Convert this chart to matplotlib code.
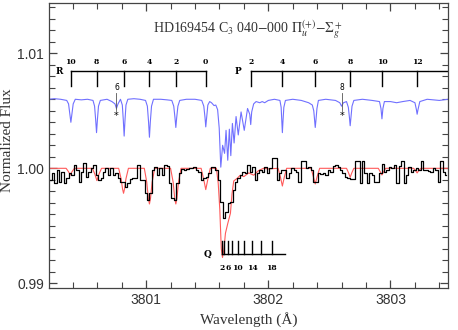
import numpy as np
import matplotlib.pyplot as plt

plt.rcParams['mathtext.fontset'] = 'stix'

# --- observed spectrum (histogram, 0.02 A bins) ---
obs_start = 3800.217
obs_step = 0.02
obs_flux = [
    0.99899, 0.99957, 0.99870, 0.99986, 0.99884, 0.99971, 0.99870, 0.99913, 0.99957, 0.99942,
    1.00029, 0.99986, 0.99884, 0.99971, 1.00043, 0.99928, 0.99971, 1.00000, 1.00029, 0.99942,
    0.99899, 0.99913, 0.99971, 1.00000, 0.99942, 1.00000, 0.99942, 0.99957, 0.99913, 0.99884,
    0.99884, 0.99841, 0.99870, 0.99904, 0.99913, 0.99913, 1.00030, 0.99899, 0.99899, 0.99783,
    0.99725, 0.99783, 0.99986, 1.00014, 0.99942, 1.00000, 0.99942, 1.00029, 1.00020, 0.99870,
    0.99739, 0.99725, 0.99870, 0.99957, 0.99991, 0.99986, 0.99991, 1.00000, 1.00000, 1.00014,
    0.99986, 0.99971, 0.99899, 0.99913, 0.99928, 0.99957, 1.00010, 1.00010, 0.99986, 0.99899,
    0.99710, 0.99565, 0.99623, 0.99696, 0.99710, 0.99812, 0.99884, 0.99913, 0.99942, 0.99971,
    0.99957, 1.00029, 0.99971, 1.00014, 0.99899, 0.99957, 0.99986, 0.99971, 1.00014, 0.99957,
    1.00000, 1.00087, 1.00090, 0.99899, 0.99957, 0.99986, 0.99986, 0.99913, 0.99957, 1.00000,
    0.99986, 0.99971, 0.99884, 1.00060, 1.00060, 1.00000, 1.00014, 0.99986, 0.99880, 0.99884,
    0.99957, 0.99950, 0.99957, 0.99942, 0.99986, 0.99971, 1.00020, 1.00029, 1.00014, 0.99986,
    0.99957, 0.99928, 0.99913, 0.99905, 0.99905, 1.00060, 1.00060, 0.99870, 1.00060, 0.99957,
    0.99870, 0.99957, 0.99942, 0.99884, 0.99884, 0.99957, 1.00040, 0.99971, 0.99986, 1.00014,
    1.00000, 1.00029, 0.99870, 1.00020, 1.00060, 0.99870, 0.99942, 1.00014, 0.99971, 0.99986,
    1.00000, 0.99986, 1.00060, 0.99986, 0.99986, 0.99980, 0.99971, 1.00000, 0.99986, 0.99884,
    1.00060, 0.99971, 0.99942,
]
obs_wl = obs_start + obs_step * np.arange(len(obs_flux))

# --- model spectrum (red) ---
red_wl = [3800.20, 3800.345, 3800.365, 3800.379, 3800.393, 3800.413,
          3800.56, 3800.58, 3800.597, 3800.614, 3800.635,
          3800.775, 3800.795, 3800.807, 3800.815, 3800.823, 3800.835, 3800.855,
          3800.985, 3801.005, 3801.018, 3801.027, 3801.036, 3801.049, 3801.07,
          3801.20, 3801.221, 3801.234, 3801.243, 3801.252, 3801.265, 3801.286,
          3801.45, 3801.47, 3801.488, 3801.506, 3801.525, 3801.575,
          3801.59, 3801.603, 3801.615, 3801.625, 3801.636, 3801.649, 3801.668,
          3801.69, 3801.703, 3801.717, 3801.745, 3801.77, 3801.80, 3801.84,
          3801.88, 3801.92, 3801.96, 3802.00, 3802.08, 3802.10, 3802.115,
          3802.13, 3802.15, 3802.35, 3802.368, 3802.384, 3802.40, 3802.42,
          3802.64, 3802.657, 3802.67, 3802.683, 3802.70, 3802.90, 3802.916,
          3802.93, 3802.944, 3802.96, 3803.19, 3803.205, 3803.218, 3803.231,
          3803.25, 3803.47]
red_fl = [1.0, 1.0, 0.9997, 0.99942, 0.9997, 1.0,
          1.0, 0.9995, 0.99893, 0.9995, 1.0,
          1.0, 0.9991, 0.9982, 0.99783, 0.9982, 0.9991, 1.0,
          1.0, 0.9988, 0.9974, 0.9969, 0.9974, 0.9988, 1.0,
          1.0, 0.9988, 0.9974, 0.9969, 0.9974, 0.9988, 1.0,
          1.0, 0.9991, 0.99815, 0.9991, 1.0, 1.0,
          0.9987, 0.9964, 0.9930, 0.99225, 0.9929, 0.99435, 0.9952,
          0.9961, 0.9978, 0.9989, 0.99913, 0.9994, 0.99928, 0.9996,
          0.9994, 0.9998, 1.0, 0.99995, 1.0, 0.9992, 0.99846,
          0.9992, 1.0, 1.0, 0.9993, 0.99864, 0.9993, 1.0,
          1.0, 0.9996, 0.99922, 0.9996, 1.0, 1.0, 0.9997,
          0.99942, 0.9997, 1.0, 1.0, 0.9998, 0.99960, 0.9998,
          1.0, 1.0]

# --- model spectrum, offset (blue) ---
blue_wl = [3800.20, 3800.25, 3800.30, 3800.35, 3800.365, 3800.376, 3800.384, 3800.392, 3800.403, 3800.42,
           3800.47, 3800.52, 3800.565, 3800.578, 3800.587, 3800.594, 3800.601, 3800.61, 3800.625,
           3800.68, 3800.72, 3800.745, 3800.757, 3800.77, 3800.79, 3800.805, 3800.813, 3800.820,
           3800.827, 3800.835, 3800.85, 3800.90, 3800.95, 3800.995, 3801.01, 3801.02, 3801.027,
           3801.034, 3801.044, 3801.06, 3801.12, 3801.17, 3801.21, 3801.226, 3801.236, 3801.243,
           3801.25, 3801.26, 3801.275, 3801.33, 3801.40, 3801.455, 3801.472, 3801.482, 3801.488,
           3801.495, 3801.505, 3801.52, 3801.535, 3801.556, 3801.57, 3801.585, 3801.598, 3801.611,
           3801.626, 3801.642, 3801.654, 3801.668, 3801.681, 3801.693, 3801.706, 3801.720, 3801.736,
           3801.754, 3801.777, 3801.803, 3801.830, 3801.848, 3801.856, 3801.864, 3801.88, 3801.90,
           3801.93, 3801.95, 3801.97, 3802.00, 3802.05, 3802.095, 3802.105, 3802.11, 3802.115,
           3802.12, 3802.127, 3802.14, 3802.20, 3802.27, 3802.33, 3802.36, 3802.372, 3802.379,
           3802.384, 3802.39, 3802.398, 3802.41, 3802.47, 3802.55, 3802.585, 3802.600, 3802.615,
           3802.64, 3802.655, 3802.664, 3802.670, 3802.676, 3802.685, 3802.70, 3802.77, 3802.85,
           3802.91, 3802.922, 3802.930, 3802.938, 3802.95, 3803.00, 3803.05, 3803.10, 3803.16,
           3803.20, 3803.212, 3803.218, 3803.225, 3803.24, 3803.30, 3803.40, 3803.47]
blue_fl = [1.0060, 1.00605, 1.0060, 1.0059, 1.0056, 1.0047, 1.0040, 1.0047, 1.0056, 1.0060,
           1.00595, 1.0060, 1.0059, 1.0054, 1.0042, 1.0031, 1.0042, 1.0054, 1.0059,
           1.0060, 1.0058, 1.0056, 1.0052, 1.0056, 1.0060, 1.0055, 1.0042, 1.0028,
           1.0042, 1.0055, 1.0060, 1.00605, 1.0060, 1.0059, 1.0054, 1.0040, 1.0027,
           1.0040, 1.0054, 1.0060, 1.0060, 1.00595, 1.0059, 1.0054, 1.0044, 1.00355,
           1.0044, 1.0054, 1.0059, 1.0060, 1.0060, 1.0059, 1.0054, 1.0044, 1.0036,
           1.0044, 1.0055, 1.0058, 1.0057, 1.00545, 1.0055, 1.0051, 1.0035, 1.0001,
           1.0020, 1.0013, 1.0033, 1.0007, 1.0034, 1.0011, 1.0039, 1.0022, 1.0045,
           1.0029, 1.0049, 1.0033, 1.0052, 1.0047, 1.0038, 1.0049, 1.0056, 1.0058,
           1.0057, 1.0058, 1.0057, 1.0059, 1.0060, 1.0059, 1.0053, 1.0041, 1.0031,
           1.0041, 1.0053, 1.0059, 1.0060, 1.0059, 1.0057, 1.0055, 1.0050, 1.0042,
           1.00355, 1.0042, 1.0052, 1.0059, 1.0060, 1.0059, 1.0057, 1.0054, 1.0057,
           1.0058, 1.0053, 1.0044, 1.0037, 1.0044, 1.0054, 1.0059, 1.0060, 1.0059,
           1.0058, 1.0052, 1.0043, 1.0052, 1.0058, 1.0058, 1.0057, 1.0058, 1.0059,
           1.0057, 1.0051, 1.0047, 1.0051, 1.0058, 1.0060, 1.0059, 1.0060]

# --- line identifications ---
R_J = [10, 8, 6, 4, 2, 0]
R_wl = [3800.384, 3800.594, 3800.820, 3801.027, 3801.243, 3801.488]
P_J = [2, 4, 6, 8, 10, 12]
P_wl = [3801.856, 3802.115, 3802.384, 3802.670, 3802.930, 3803.218]
Q_J = [2, 4, 6, 8, 10, 12, 14, 16, 18]
Q_wl = [3801.624, 3801.640, 3801.668, 3801.703, 3801.750, 3801.804, 3801.869, 3801.943, 3802.028]
Q_shown = [2, 6, 10, 14, 18]
star_J = [6, 8]
star_wl = [3800.757, 3802.600]

fig = plt.figure(figsize=(4.58, 3.30), dpi=100)
ax = fig.add_axes([0.107, 0.127, 0.871, 0.864])

ax.plot(blue_wl, blue_fl, color='#7070ff', lw=0.8)
ax.plot(red_wl, red_fl, color='#ff5a5a', lw=0.8)
ax.step(obs_wl, obs_flux, where='mid', color='black', lw=0.9)

ax.set_xlim(3800.205, 3803.47)
ax.set_ylim(0.98959, 1.01437)

# R and P branch combs
y_bar, y_tick, y_num = 1.00849, 1.00718, 1.00924
bkw = dict(fontsize=5.5, fontweight='bold', family='DejaVu Serif', ha='center', va='center')
ax.plot([R_wl[0], R_wl[-1]], [y_bar, y_bar], color='black', lw=1)
ax.plot([P_wl[0], 3803.6], [y_bar, y_bar], color='black', lw=1)
for wl, j in zip(R_wl + P_wl, R_J + P_J):
    ax.plot([wl, wl], [y_bar, y_tick], color='black', lw=1)
    ax.text(wl, y_num, str(j), **bkw)
ax.text(3800.289, 1.0084, 'R', fontsize=6.5, fontweight='bold', family='DejaVu Serif',
        ha='center', va='center')
ax.text(3801.752, 1.0084, 'P', fontsize=6.5, fontweight='bold', family='DejaVu Serif',
        ha='center', va='center')

# asterisks
for wl, j in zip(star_wl, star_J):
    ax.text(wl, 1.00704, str(j), fontsize=5.5, family='DejaVu Sans', ha='center', va='center')
    ax.plot([wl, wl], [1.00655, 1.00507], color='#555555', lw=0.6)
    ax.text(wl, 1.00452, '*', fontsize=7, ha='center', va='center')

# Q branch comb
q_bar, q_top = 0.99252, 0.99370
ax.plot([Q_wl[0], 3802.137], [q_bar, q_bar], color='black', lw=1)
for wl, j in zip(Q_wl, Q_J):
    ax.plot([wl, wl], [q_bar, q_top], color='black', lw=1)
    if j in Q_shown:
        ax.text(wl, 0.99136, str(j), **bkw)
ax.text(3801.50, q_bar, 'Q', fontsize=6.5, fontweight='bold', family='DejaVu Serif',
        ha='center', va='center')

ax.text(0.499, 0.905, r'HD169454 C$_3$ 040$-$000 $\Pi_u^{(+)}$$-$$\Sigma_g^+$',
        transform=ax.transAxes, ha='center', va='center', fontsize=10,
        family='Liberation Serif', color='#333333')

ax.set_xticks([3801, 3802, 3803])
ax.set_xticks(np.arange(3800.4, 3803.5, 0.2), minor=True)
ax.set_yticks([0.99, 1.00, 1.01])
ax.set_yticklabels(['0.99', '1.00', '1.01'])
ax.set_yticks(np.arange(0.990, 1.0145, 0.001), minor=True)
ax.tick_params(which='both', direction='in', top=True, right=True, color='#444444',
               labelsize=10, labelcolor='#333333')
ax.tick_params(which='major', length=6, width=0.9)
ax.tick_params(which='minor', length=4, width=0.8)
for lab in ax.get_xticklabels() + ax.get_yticklabels():
    lab.set_family('Liberation Sans')
for s in ax.spines.values():
    s.set_color('#444444')
    s.set_linewidth(0.9)

ax.set_xlabel('Wavelength (Å)', family='Liberation Serif', fontsize=11, color='#333333')
ax.set_ylabel('Normalized Flux', family='Liberation Serif', fontsize=11, color='#333333')
ax.yaxis.set_label_coords(-0.088, 0.52)

fig.savefig('out.png', dpi=100)
